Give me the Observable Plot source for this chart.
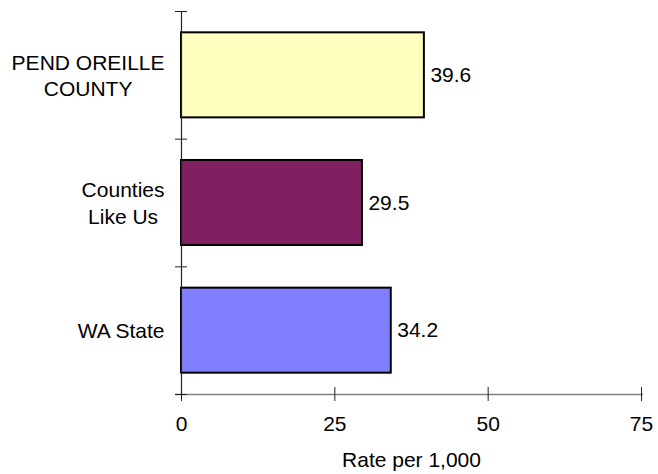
<!DOCTYPE html>
<html>
<head>
<meta charset="utf-8">
<script src="https://cdn.jsdelivr.net/npm/d3@7"></script>
<script src="https://cdn.jsdelivr.net/npm/@observablehq/plot@0.6"></script>
<style>
  html, body { margin: 0; padding: 0; background: #ffffff; }
</style>
</head>
<body>
<div id="chart"></div>
<script>
const categories = ["PEND OREILLE\nCOUNTY", "Counties\nLike Us", "WA State"];
const values = [39.6, 29.5, 34.2];
const colors = ["#FFFFC0", "#802060", "#8080FF"];
const xTicks = [0, 25, 50, 75];
const xLabel = "Rate per 1,000";

const data = categories.map((c, i) => ({category: c, value: values[i], color: colors[i], i}));
const boundaries = d3.range(categories.length + 1);
const pad = 0.167;

const chart = Plot.plot({
  width: 658,
  height: 474,
  marginLeft: 181,
  marginRight: 17,
  marginTop: 11,
  marginBottom: 80,
  style: {fontFamily: "'Liberation Sans', Arial, sans-serif", fontSize: "21px", background: "white", color: "black"},
  x: {domain: [0, 75]},
  y: {domain: [0, categories.length], reverse: true},
  color: {type: "identity"},
  marks: [
    Plot.rectX(data, {x1: 0, x2: "value", y1: d => d.i + pad, y2: d => d.i + 1 - pad, fill: "color", stroke: "black", strokeWidth: 2}),
    Plot.ruleY([categories.length], {stroke: "#808080", strokeWidth: 1.5, insetLeft: -6, insetRight: -2}),
    Plot.ruleX([0], {y1: 0, y2: categories.length, stroke: "#222", strokeWidth: 1.2}),
    Plot.axisY({ticks: boundaries, tickSize: 12, dx: 6, tickFormat: () => "", label: null, stroke: "#222"}),
    Plot.axisX({ticks: xTicks, tickSize: 14, dy: -7, tickFormat: () => "", label: null, stroke: "#222"}),
    Plot.axisX({ticks: xTicks, tickSize: 0, tickPadding: 22, label: null, fill: "black"}),
    Plot.text([xLabel], {frameAnchor: "bottom", lineAnchor: "top", dy: 58, fill: "black"}),
    Plot.text(data, {x: "value", y: d => d.i + 0.5, text: d => d.value.toFixed(1), textAnchor: "start", dx: 6, fill: "black"}),
    Plot.text(data, {x: 0, y: d => d.i + 0.5, text: "category", textAnchor: "end", dx: -17, dy: -1, lineHeight: 1.27, fill: "black"})
  ]
});

document.getElementById("chart").appendChild(chart);

// Centre the lines of each category label within its right-aligned block
const textGroups = chart.querySelectorAll('g[aria-label="text"]');
const labelGroup = textGroups[textGroups.length - 1];
labelGroup.querySelectorAll("text").forEach(t => {
  const w = t.getBBox().width;
  t.setAttribute("text-anchor", "middle");
  const tr = t.getAttribute("transform") || "";
  t.setAttribute("transform", tr + ` translate(${-w / 2},0)`);
});
</script>
</body>
</html>
